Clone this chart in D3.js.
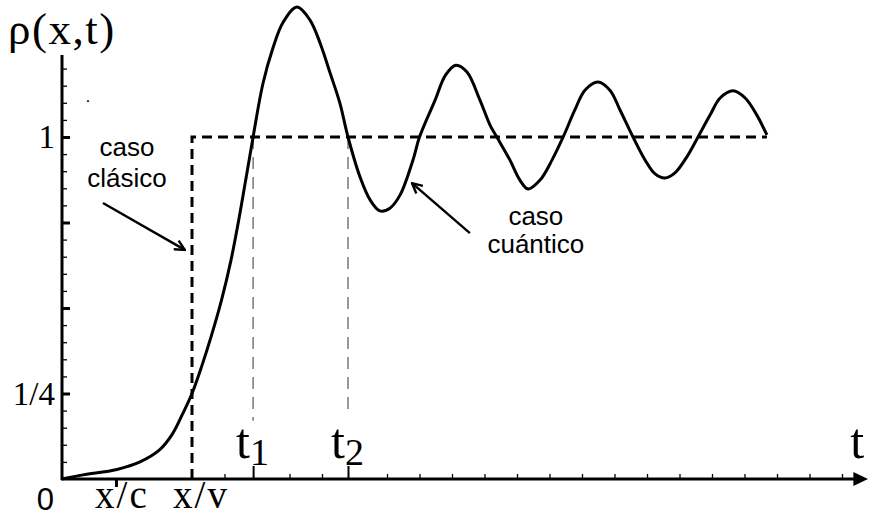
<!DOCTYPE html>
<html>
<head>
<meta charset="utf-8">
<script src="https://cdn.jsdelivr.net/npm/d3@7"></script>
<style>
  body { margin: 0; background: #fff; }
  svg { display: block; }
  .serif { font-family: "Liberation Serif", "DejaVu Serif", serif; }
  .sans { font-family: "Liberation Sans", Arial, sans-serif; }
</style>
</head>
<body>
<div id="chart"></div>
<script>
// quantum curve rho(x,t) (t in tick units, rho relative to 1)
var curveT = [0, 0.65, 1.69, 2.4, 3.0, 3.4, 3.7, 4.0, 4.3, 4.6, 4.9, 5.2, 5.5, 5.88, 6.18, 6.49, 6.8, 7.23,
    7.63, 7.94, 8.25, 8.55, 8.8, 9.17, 9.48, 9.78, 10.09, 10.4, 10.8, 11.0, 11.48, 11.8, 12.12, 12.46,
    12.86, 13.17, 13.38, 13.78, 14.09, 14.34, 14.71, 15.08, 15.42, 15.78, 16.09, 16.49, 16.86, 17.17,
    17.57, 17.94, 18.25, 18.55, 18.86, 19.26, 19.57, 19.94, 20.25, 20.65, 21.02, 21.38, 21.69];
var curveRho = [0, 0.012, 0.028, 0.05, 0.085, 0.132, 0.188, 0.25, 0.33, 0.42, 0.52, 0.64, 0.79, 1.0, 1.155, 1.26, 1.335, 1.38,
    1.342, 1.275, 1.187, 1.099, 1.0, 0.883, 0.816, 0.784, 0.792, 0.83, 0.933, 1.0, 1.108, 1.181, 1.21, 1.19,
    1.108, 1.035, 1.0, 0.933, 0.874, 0.848, 0.874, 0.933, 1.0, 1.079, 1.137, 1.161, 1.137, 1.079,
    1.0, 0.933, 0.892, 0.88, 0.895, 0.947, 1.0, 1.064, 1.114, 1.135, 1.114, 1.064, 1.006];

// classical step: 0 before x/v, 1 after
var classicT = [4.0, 4.0, 21.69];
var classicRho = [0, 1, 1];

// special times
var tXc = 1.66, tXv = 4.0, t1 = 5.88, t2 = 8.8;

var yMajorTicks = [0.25, 0.5, 0.75, 1];
var yMinorTicks = [0.05, 0.1, 0.15, 0.2, 0.3, 0.35, 0.4, 0.45, 0.55, 0.6, 0.65, 0.7,
    0.8, 0.85, 0.9, 0.95, 1.05, 1.1, 1.15, 1.2];
var yTickLabels = [{v: 1, text: "1"}, {v: 0.25, text: "1/4"}];
var xMinorTicks = [5, 7, 8, 10, 11, 12, 13, 14, 15, 16, 17, 18, 19, 20, 21, 22, 23, 24];

var width = 871,
    height = 518;

var svg = d3.select("#chart").append("svg")
    .attr("width", width)
    .attr("height", height);

var x = d3.scaleLinear().domain([0, 24.8]).range([62, 868]);
var y = d3.scaleLinear().domain([0, 1]).range([479, 137]);

// arrow marker for the annotations
svg.append("defs").append("marker")
    .attr("id", "arr")
    .attr("viewBox", "0 -6 12 12")
    .attr("refX", 11).attr("refY", 0)
    .attr("markerWidth", 12).attr("markerHeight", 12)
    .attr("markerUnits", "userSpaceOnUse")
    .attr("orient", "auto")
    .append("path")
    .attr("d", "M1,-5 L11,0 L1,5")
    .attr("fill", "none")
    .attr("stroke", "#000")
    .attr("stroke-width", 2.4);

// y axis ticks (pointing into the plot)
svg.append("g")
    .attr("transform", "translate(" + x(0) + ",0)")
    .call(d3.axisRight(y).tickValues(yMinorTicks).tickSize(5).tickFormat("").tickSizeOuter(0))
    .call(function(g) { g.select(".domain").remove(); })
    .selectAll("line").attr("stroke-width", 1.3);
svg.append("g")
    .attr("transform", "translate(" + x(0) + ",0)")
    .call(d3.axisRight(y).tickValues(yMajorTicks).tickSize(8).tickFormat("").tickSizeOuter(0))
    .call(function(g) { g.select(".domain").remove(); })
    .selectAll("line").attr("stroke-width", 3);

// x axis ticks (pointing up)
svg.append("g")
    .attr("transform", "translate(0," + y(0) + ")")
    .call(d3.axisTop(x).tickValues(xMinorTicks).tickSize(5).tickFormat("").tickSizeOuter(0))
    .call(function(g) { g.select(".domain").remove(); })
    .selectAll("line").attr("stroke-width", 1.3);
svg.append("g")
    .attr("transform", "translate(0," + y(0) + ")")
    .call(d3.axisTop(x).tickValues([t1, t2]).tickSize(13).tickFormat("").tickSizeOuter(0))
    .call(function(g) { g.select(".domain").remove(); })
    .selectAll("line").attr("stroke-width", 2);
svg.append("g")
    .attr("transform", "translate(0," + y(0) + ")")
    .call(d3.axisBottom(x).tickValues([tXc]).tickSize(8).tickFormat("").tickSizeOuter(0))
    .call(function(g) { g.select(".domain").remove(); })
    .selectAll("line").attr("stroke-width", 3);

// axis lines
svg.append("line")
    .attr("x1", x(0)).attr("x2", x(0))
    .attr("y1", y(0) + 1).attr("y2", y(1.24))
    .attr("stroke", "#000").attr("stroke-width", 3);
svg.append("line")
    .attr("x1", x(0) - 1).attr("x2", x(24.4))
    .attr("y1", y(0)).attr("y2", y(0))
    .attr("stroke", "#000").attr("stroke-width", 3);
svg.append("path")
    .attr("d", "M" + x(24.35) + "," + (y(0) - 7) + " L" + x(24.8) + "," + y(0) + " L" + x(24.35) + "," + (y(0) + 7) + "Z")
    .attr("fill", "#000");

// thin dashed guides at t1, t2
svg.selectAll(".guide")
    .data([{t: t1, bottom: 0.17}, {t: t2, bottom: 0.195}])
    .enter().append("line")
    .attr("class", "guide")
    .attr("x1", function(d) { return x(d.t); })
    .attr("x2", function(d) { return x(d.t); })
    .attr("y1", y(1))
    .attr("y2", function(d) { return y(d.bottom); })
    .attr("stroke", "#555")
    .attr("stroke-width", 1.2)
    .attr("stroke-dasharray", "12,8");

// classical step curve (thick dashes)
var line = d3.line()
    .x(function(d) { return x(d[0]); })
    .y(function(d) { return y(d[1]); });

svg.append("path")
    .datum(d3.zip(classicT, classicRho))
    .attr("d", line)
    .attr("fill", "none")
    .attr("stroke", "#000")
    .attr("stroke-width", 3)
    .attr("stroke-dasharray", "10,6");

// quantum curve
svg.append("path")
    .datum(d3.zip(curveT, curveRho))
    .attr("d", line.curve(d3.curveCatmullRom.alpha(0.5)))
    .attr("fill", "none")
    .attr("stroke", "#000")
    .attr("stroke-width", 3)
    .attr("stroke-linejoin", "round");

// stray dot in the original drawing
svg.append("circle")
    .attr("cx", x(0.8)).attr("cy", y(1.105)).attr("r", 1.2).attr("fill", "#333");

// y labels
svg.selectAll(".ylab")
    .data(yTickLabels)
    .enter().append("text")
    .attr("class", "ylab serif")
    .attr("x", x(0) - 7)
    .attr("y", function(d) { return y(d.v) + 11; })
    .attr("text-anchor", "end")
    .attr("font-size", 33)
    .text(function(d) { return d.text; });

svg.append("text")
    .attr("class", "sans")
    .attr("x", x(0) - 8).attr("y", y(0) + 31)
    .attr("text-anchor", "end")
    .attr("font-size", 31)
    .text("0");

svg.append("text")
    .attr("class", "serif")
    .attr("x", 8).attr("y", 44)
    .attr("font-size", 45)
    .attr("letter-spacing", 1.5)
    .text("ρ(x,t)");

// x labels
svg.append("text")
    .attr("class", "serif")
    .attr("x", x(tXc) + 6).attr("y", y(0) + 29)
    .attr("text-anchor", "middle")
    .attr("font-size", 39)
    .attr("letter-spacing", 2)
    .text("x/c");
svg.append("text")
    .attr("class", "serif")
    .attr("x", x(tXv) + 9).attr("y", y(0) + 29)
    .attr("text-anchor", "middle")
    .attr("font-size", 39)
    .attr("letter-spacing", 2)
    .text("x/v");

svg.selectAll(".tlab")
    .data([{t: t1, sub: "1"}, {t: t2, sub: "2"}])
    .enter().append("text")
    .attr("class", "tlab serif")
    .attr("x", function(d) { return x(d.t) - 17; })
    .attr("y", y(0) - 21)
    .attr("font-size", 50)
    .text("t")
    .append("tspan")
    .attr("font-size", 38)
    .attr("dy", 7)
    .text(function(d) { return d.sub; });

svg.append("text")
    .attr("class", "serif")
    .attr("x", x(24.25)).attr("y", y(0) - 21)
    .attr("font-size", 50)
    .text("t");

// annotations
var notes = [
    {lines: ["caso", "clásico"], t: 2.0, rho: [0.945, 0.854], from: [1.26, 0.807], to: [3.78, 0.67]},
    {lines: ["caso", "cuántico"], t: 14.58, rho: [0.742, 0.661], from: [12.55, 0.719], to: [10.77, 0.865]}
];

notes.forEach(function(n) {
    n.lines.forEach(function(s, i) {
        svg.append("text")
            .attr("class", "sans")
            .attr("x", x(n.t)).attr("y", y(n.rho[i]))
            .attr("text-anchor", "middle")
            .attr("font-size", 26)
            .text(s);
    });
    svg.append("line")
        .attr("x1", x(n.from[0])).attr("y1", y(n.from[1]))
        .attr("x2", x(n.to[0])).attr("y2", y(n.to[1]))
        .attr("stroke", "#000")
        .attr("stroke-width", 2.4)
        .attr("marker-end", "url(#arr)");
});
</script>
</body>
</html>
